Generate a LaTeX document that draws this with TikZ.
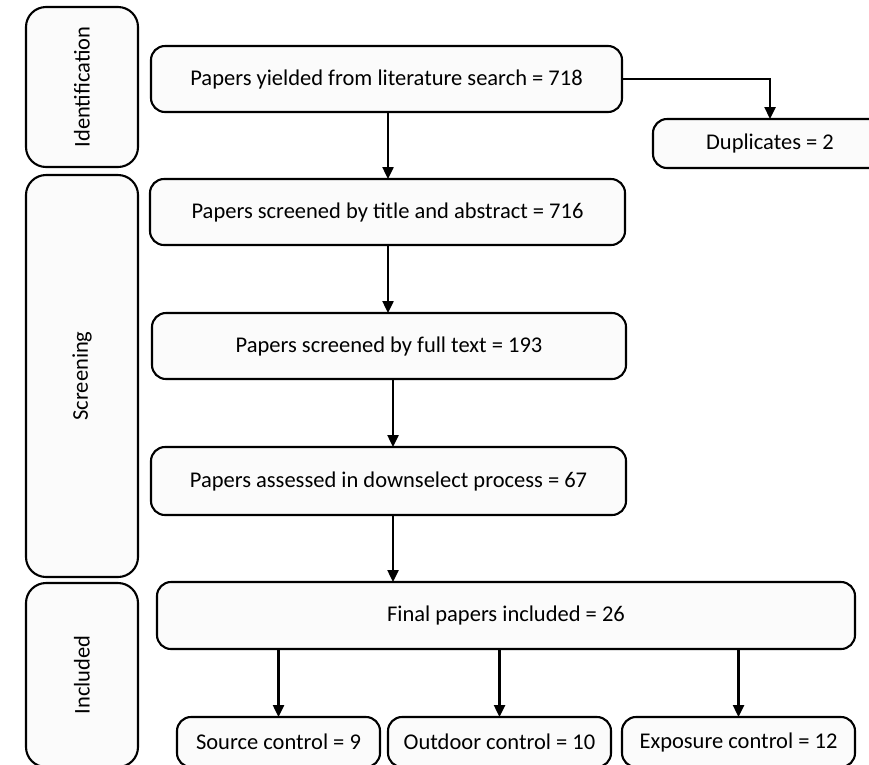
\documentclass[tikz,border=0pt]{standalone}
\usepackage{fontspec}
\setmainfont{Carlito}
\usetikzlibrary{arrows.meta}
\begin{document}
\begin{tikzpicture}[x=1pt,y=-1pt,
  box/.style={draw=black, line width=2.1pt, fill=gray!3, rounded corners=14pt,
    inner sep=0pt, outer sep=0pt, font=\fontsize{22.5}{27}\selectfont, align=center},
  phase/.style={box, rounded corners=20pt},
  arr/.style={line width=2.4pt, -{Triangle[length=12pt,width=11pt]}}]
\clip (0,0) rectangle (869,764);
\fill[white] (0,0) rectangle (869,764);
% phase boxes
\node[phase, minimum width=112pt, minimum height=160pt] (ident) at (82,87) {\rotatebox{90}{Identification}};
\node[phase, minimum width=112pt, minimum height=402pt] (screen) at (82,376) {\rotatebox{90}{Screening}};
\node[phase, minimum width=112pt, minimum height=184pt] (incl) at (82,675) {\rotatebox{90}{Included}};
% flow boxes
\node[box, minimum width=471pt, minimum height=66pt] (b1) at (386.5,79) {Papers yielded from literature search = 718};
\node[box, minimum width=234pt, minimum height=49pt] (dup) at (770,143.5) {Duplicates = 2};
\node[box, minimum width=475pt, minimum height=66pt] (b2) at (387.5,212) {Papers screened by title and abstract = 716};
\node[box, minimum width=474pt, minimum height=66pt] (b3) at (389,346) {Papers screened by full text = 193};
\node[box, minimum width=475pt, minimum height=68pt] (b4) at (388.5,481) {Papers assessed in downselect process = 67};
\node[box, minimum width=698pt, minimum height=67pt] (final) at (506,615.5) {Final papers included = 26};
\node[box, minimum width=203pt, minimum height=50pt] (src) at (278.5,742) {Source control = 9};
\node[box, minimum width=223pt, minimum height=50pt] (out) at (499.5,742) {Outdoor control = 10};
\node[box, minimum width=233pt, minimum height=50pt] (exp) at (738.5,742) {Exposure control = 12};
% helper x positions
\coordinate (xa) at (388,0);
\coordinate (xb) at (393,0);
% connectors
\draw[arr] (b1.south -| xa) -- (b2.north -| xa);
\draw[arr] (b1.east) -- (b1.east -| dup.north) -- (dup.north);
\draw[arr] (b2.south -| xa) -- (b3.north -| xa);
\draw[arr] (b3.south -| xb) -- (b4.north -| xb);
\draw[arr] (b4.south -| xb) -- (final.north -| xb);
\draw[arr] (final.south -| src.north) -- (src.north);
\draw[arr] (final.south -| out.north) -- (out.north);
\draw[arr] (final.south -| exp.north) -- (exp.north);
\end{tikzpicture}
\end{document}
